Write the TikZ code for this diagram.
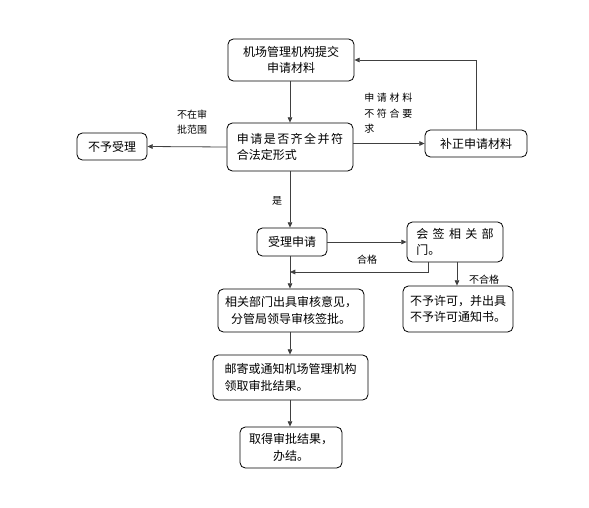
\documentclass[tikz,border=0pt]{standalone}
\usepackage{fontspec}
\newfontfamily\cjk{Noto Sans CJK SC}
\usetikzlibrary{arrows.meta}
\newcommand{\gs}[1]{\hspace{#1}}
\begin{document}
\begin{tikzpicture}[x=0.75pt,y=-0.75pt,
  box/.style={draw=black, rounded corners=4pt, line width=0.6pt, inner sep=0pt, font=\cjk\fontsize{9pt}{12.5pt}\selectfont},
  lbl/.style={inner sep=0pt, font=\cjk\fontsize{7.5pt}{11.5pt}\selectfont},
  conn/.style={draw=black!75, line width=0.6pt},
  arr/.style={conn, -{Triangle[length=4pt,width=3.5pt]}}]
\useasboundingbox (0,0) rectangle (589,507);
% nodes
\node[box, minimum width=126*0.75pt, minimum height=42*0.75pt, align=center] (b1) at (291,60) {机场管理机构提交\\申请材料};
\node[box, minimum width=126*0.75pt, minimum height=48*0.75pt, align=left] (b2) at (290,147) {申\gs{1.1pt}请\gs{1.1pt}是\gs{1.1pt}否\gs{1.1pt}齐\gs{1.1pt}全\gs{1.1pt}并\gs{1.1pt}符\\合法定形式\hspace{36pt}};
\node[box, minimum width=70*0.75pt, minimum height=27*0.75pt] (no) at (112,146.5) {不予受理};
\node[box, minimum width=102*0.75pt, minimum height=27*0.75pt] (fix) at (476,143.5) {补正申请材料};
\node[box, minimum width=70*0.75pt, minimum height=28*0.75pt] (acc) at (292,242) {受理申请};
\node[box, minimum width=96*0.75pt, minimum height=40*0.75pt, align=left] (cos) at (455,242) {会\gs{3.2pt}签\gs{3.2pt}相\gs{3.2pt}关\gs{3.2pt}部\\门。\hspace{39pt}};
\node[box, minimum width=146*0.75pt, minimum height=43*0.75pt, align=center] (rev) at (291,310.5) {相关部门出具审核意见，\\分管局领导审核签批。};
\node[box, minimum width=110*0.75pt, minimum height=46*0.75pt, align=center] (deny) at (458,309) {不予许可，并出具\\不予许可通知书。};
\node[box, minimum width=155*0.75pt, minimum height=45*0.75pt, align=left] (mail) at (290.5,377.5) {邮寄或通知机场管理机构\\领取审批结果。};
\node[box, minimum width=102*0.75pt, minimum height=41*0.75pt, align=center] (fin) at (291,447.5) {取得审批结果，\\办结。};
% labels
\node[lbl, align=left] (l1) at (192,122) {不在审\\批范围};
\node[lbl, align=left, anchor=north west] (l2) at (364,93) {申\gs{2pt}请\gs{2pt}材\gs{2pt}料\\不\gs{2pt}符\gs{2pt}合\gs{2pt}要\\求};
\node[lbl] (l3) at (277,201) {是};
\node[lbl] (l4) at (367,260) {合格};
\node[lbl] (l5) at (484,280) {不合格};
\coordinate (j) at (290,272);
\coordinate (c1) at (428,262);
\coordinate (c2) at (457,262);
% connectors
\draw[arr] (b1.south -| 290,0) -- (b2.north);
\draw[arr] (b2.west) -- (no.east);
\draw[arr] (b2.east |- fix.west) -- (fix.west);
\draw[arr] (fix.north) |- (b1.east);
\draw[arr] (b2.south) -- (b2.south |- acc.north);
\draw[arr] (acc.east |- cos.west) -- (cos.west);
\draw[arr] (c1) |- (j);
\draw[arr] (acc.south -| 290,0) -- (rev.north -| 290,0);
\draw[arr] (c2) -- (c2 |- deny.north);
\draw[arr] (rev.south -| 290,0) -- (mail.north -| 290,0);
\draw[arr] (mail.south -| 290,0) -- (fin.north -| 290,0);
\end{tikzpicture}
\end{document}
